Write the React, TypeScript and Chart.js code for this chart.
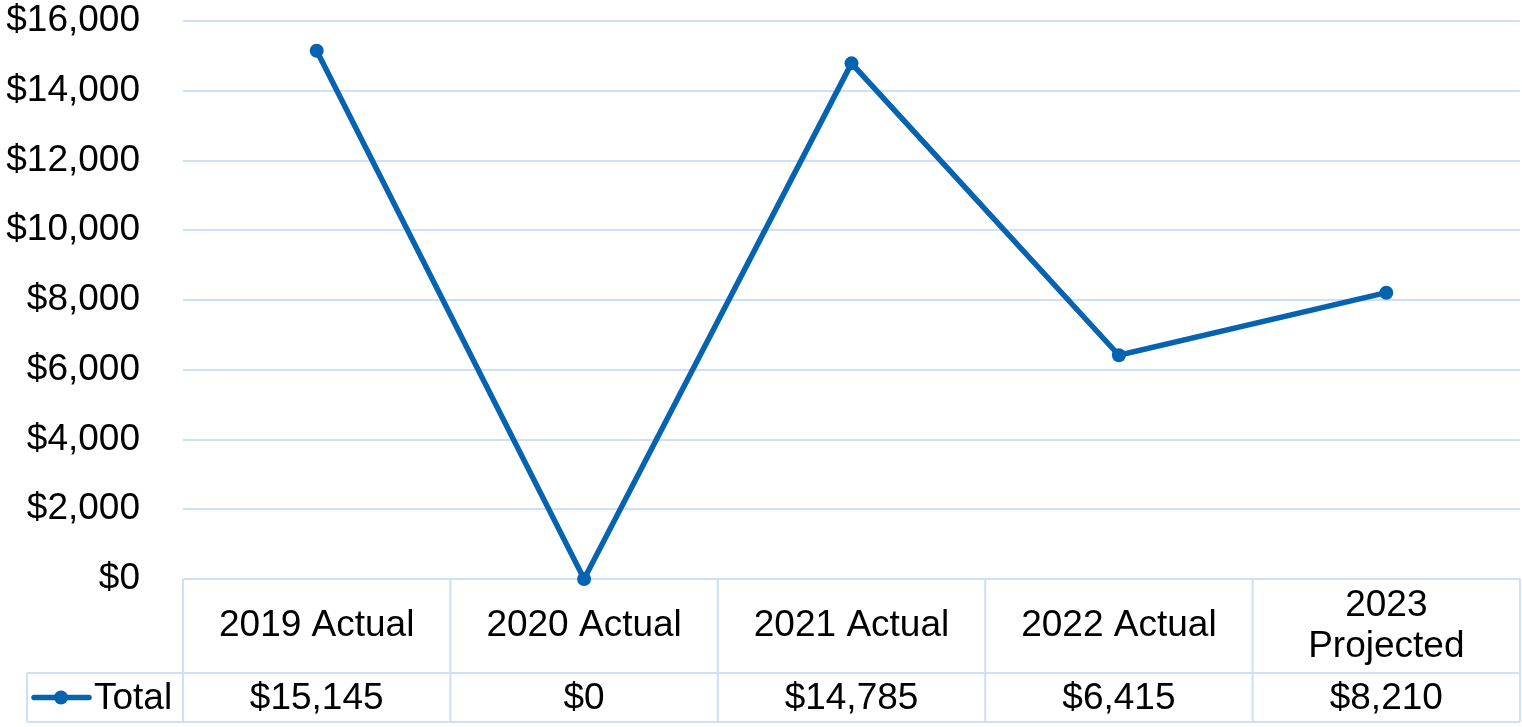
import React, { useEffect, useRef } from "react";
import { Chart, registerables } from "chart.js";

Chart.register(...registerables);

// ---- data ----
const categories = ["2019 Actual", "2020 Actual", "2021 Actual", "2022 Actual", "2023 Projected"];
const seriesName = "Total";
const totals = [15145, 0, 14785, 6415, 8210];
const yMin = 0;
const yMax = 16000;
const yStep = 2000;

// ---- style ----
const LINE_COLOR = "#0563b0";
const GRID_COLOR = "#cddff9";
const TEXT_COLOR = "#000000";
const FONT_FAMILY = '"Liberation Sans", Arial, Helvetica, sans-serif';
const FONT_SIZE = 37;

const fmtMoney = (v: number) => "$" + Math.round(v).toLocaleString("en-US");

function wrapText(ctx: CanvasRenderingContext2D, text: string, maxW: number): string[] {
  const words = text.split(" ");
  const lines: string[] = [];
  let cur = "";
  for (const w of words) {
    const test = cur ? cur + " " + w : w;
    if (ctx.measureText(test).width > maxW && cur) {
      lines.push(cur);
      cur = w;
    } else {
      cur = test;
    }
  }
  if (cur) lines.push(cur);
  return lines;
}

const dataTablePlugin = {
  id: "dataTable",
  beforeDatasetsDraw(chart: any) {
    const ctx: CanvasRenderingContext2D = chart.ctx;
    const { left, right, bottom } = chart.chartArea;
    const xs = chart.scales.x;
    const n = categories.length;
    const colW = (right - left) / n;
    const headerBottom = bottom + 94;
    const rowBottom = headerBottom + 49;
    const legendLeft = 27;

    ctx.save();
    ctx.strokeStyle = GRID_COLOR;
    ctx.lineWidth = 2;
    const line = (x1: number, y1: number, x2: number, y2: number) => {
      ctx.beginPath();
      ctx.moveTo(x1, y1);
      ctx.lineTo(x2, y2);
      ctx.stroke();
    };
    line(left, bottom, right, bottom);
    line(legendLeft, headerBottom, right, headerBottom);
    line(legendLeft, rowBottom, right, rowBottom);
    for (let i = 0; i <= n; i++) {
      const xb = left + i * colW;
      line(xb, bottom, xb, rowBottom);
    }
    line(legendLeft, headerBottom, legendLeft, rowBottom);

    ctx.fillStyle = TEXT_COLOR;
    ctx.font = `${FONT_SIZE}px ${FONT_FAMILY}`;
    ctx.textAlign = "center";
    ctx.textBaseline = "middle";
    const lineH = 41;
    categories.forEach((c, i) => {
      const cx = xs.getPixelForValue(i);
      const lines = wrapText(ctx, c, colW - 30);
      const cy = (bottom + headerBottom) / 2;
      const startY = cy - ((lines.length - 1) * lineH) / 2;
      lines.forEach((l, k) => ctx.fillText(l, cx, startY + k * lineH));
      ctx.fillText(fmtMoney(totals[i]), cx, (headerBottom + rowBottom) / 2 + 1);
    });

    // legend key
    const ly = (headerBottom + rowBottom) / 2;
    ctx.strokeStyle = LINE_COLOR;
    ctx.lineWidth = 5.5;
    ctx.lineCap = "round";
    line(legendLeft + 7, ly, legendLeft + 62, ly);
    ctx.fillStyle = LINE_COLOR;
    ctx.beginPath();
    ctx.arc(legendLeft + 34, ly, 7, 0, Math.PI * 2);
    ctx.fill();
    ctx.fillStyle = TEXT_COLOR;
    ctx.textAlign = "left";
    ctx.fillText(seriesName, legendLeft + 67, ly + 1);
    ctx.restore();
  },
};

export default function App() {
  const canvasRef = useRef<HTMLCanvasElement | null>(null);

  useEffect(() => {
    document.body.style.margin = "0";
    const canvas = canvasRef.current;
    if (!canvas) return;
    Chart.defaults.font.family = FONT_FAMILY;
    const chart = new Chart(canvas, {
      type: "line",
      data: {
        labels: categories,
        datasets: [
          {
            label: seriesName,
            data: totals,
            borderColor: LINE_COLOR,
            backgroundColor: LINE_COLOR,
            borderWidth: 5.5,
            pointRadius: 7,
            pointHoverRadius: 7,
            pointBackgroundColor: LINE_COLOR,
            pointBorderWidth: 0,
            tension: 0,
            clip: false as any,
          },
        ],
      },
      options: {
        responsive: true,
        maintainAspectRatio: false,
        animation: false,
        layout: { autoPadding: false, padding: { top: 21, bottom: 148, right: 2, left: 0 } },
        plugins: {
          legend: { display: false },
          tooltip: { enabled: false },
        },
        scales: {
          x: {
            type: "category",
            display: false,
            offset: true,
            afterFit: (scale: any) => {
              scale.paddingLeft = 0;
              scale.paddingRight = 0;
              scale.paddingTop = 0;
              scale.paddingBottom = 0;
            },
          },
          y: {
            min: yMin,
            max: yMax,
            border: { display: false },
            grid: { color: GRID_COLOR, lineWidth: 2, drawTicks: false },
            ticks: {
              stepSize: yStep,
              padding: 43,
              color: TEXT_COLOR,
              font: { size: FONT_SIZE, family: FONT_FAMILY },
              callback: (v: any) => fmtMoney(Number(v)),
            },
            afterFit: (scale: any) => {
              scale.width = 183;
              scale.paddingTop = 0;
              scale.paddingBottom = 0;
              scale.paddingLeft = 0;
              scale.paddingRight = 0;
            },
          },
        },
      },
      plugins: [dataTablePlugin],
    });
    return () => chart.destroy();
  }, []);

  return (
    <div style={{ position: "relative", width: 1522, height: 727, background: "#ffffff" }}>
      <canvas ref={canvasRef} />
    </div>
  );
}
